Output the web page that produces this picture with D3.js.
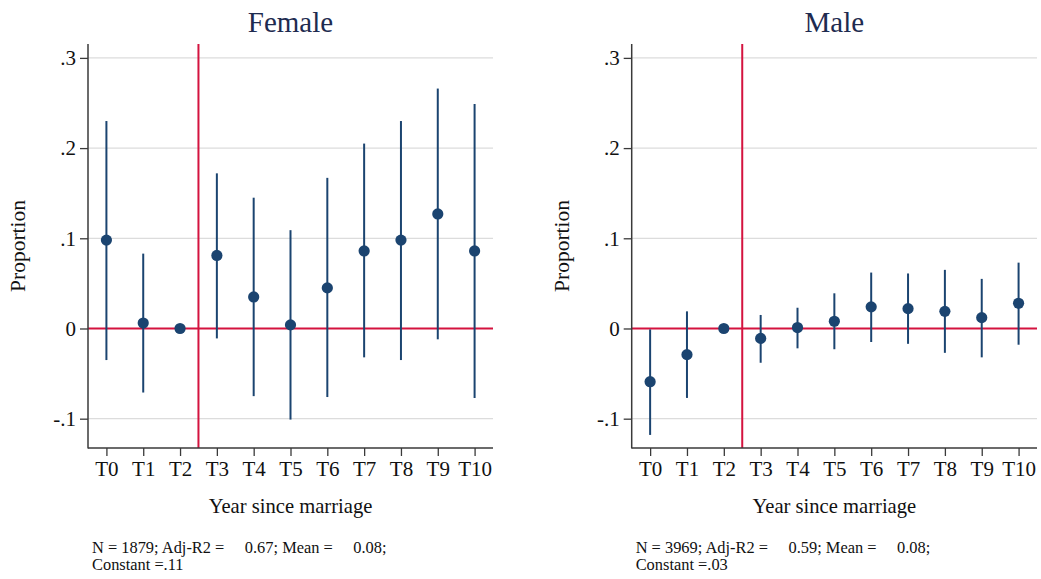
<!DOCTYPE html>
<html>
<head>
<meta charset="utf-8">
<script src="https://cdn.jsdelivr.net/npm/d3@7/dist/d3.min.js"></script>
<style>
  html, body { margin: 0; padding: 0; background: #fff; }
  svg { display: block; font-family: "Liberation Serif", "DejaVu Serif", serif; }
</style>
</head>
<body>
<div id="chart"></div>
<script>
// event-study coefficients by year since marriage (T2 = reference year)
const categories = ['T0', 'T1', 'T2', 'T3', 'T4', 'T5', 'T6', 'T7', 'T8', 'T9', 'T10'];

const femaleCoef = [0.098, 0.006, 0, 0.081, 0.035, 0.004, 0.045, 0.086, 0.098, 0.127, 0.086];
const femaleLo   = [-0.035, -0.071, 0, -0.011, -0.075, -0.101, -0.076, -0.032, -0.035, -0.012, -0.077];
const femaleHi   = [0.230, 0.083, 0, 0.172, 0.145, 0.109, 0.167, 0.205, 0.230, 0.266, 0.249];

const maleCoef = [-0.059, -0.029, 0, -0.011, 0.001, 0.008, 0.024, 0.022, 0.019, 0.012, 0.028];
const maleLo   = [-0.118, -0.077, 0, -0.038, -0.022, -0.023, -0.015, -0.017, -0.027, -0.032, -0.018];
const maleHi   = [-0.001, 0.019, 0, 0.015, 0.023, 0.039, 0.062, 0.061, 0.065, 0.055, 0.073];

const yTicks = [-0.1, 0, 0.1, 0.2, 0.3];
const yTickLabels = ['-.1', '0', '.1', '.2', '.3'];

const femaleNote = ['N = 1879; Adj-R2 =     0.67; Mean =     0.08;', 'Constant =.11'];
const maleNote   = ['N = 3969; Adj-R2 =     0.59; Mean =     0.08;', 'Constant =.03'];

const width = 1041, height = 579;
const navy = '#1b4470', red = '#d4133f', grid = '#dcdcdc', axisCol = '#3a3a3a';

const svg = d3.select('#chart').append('svg')
    .attr('width', width)
    .attr('height', height);

function drawPanel(opts) {
    const { left, right, top, bottom, title, coef, lo, hi, note } = opts;

    const x = d3.scalePoint()
        .domain(categories)
        .range([left, right])
        .padding(0.5);

    const y = d3.scaleLinear()
        .domain([-0.1325, 0.3154])
        .range([bottom, top]);

    const g = svg.append('g');

    // gridlines (zero line is drawn in red later)
    g.selectAll('.grid')
        .data(yTicks.filter(d => d !== 0))
        .join('line')
        .attr('x1', left).attr('x2', right)
        .attr('y1', d => y(d)).attr('y2', d => y(d))
        .attr('stroke', grid)
        .attr('stroke-width', 1.2);

    // reference lines
    const xRef = x('T2') + x.step() / 2;
    g.append('line')
        .attr('x1', xRef).attr('x2', xRef)
        .attr('y1', top).attr('y2', bottom)
        .attr('stroke', red).attr('stroke-width', 2);

    g.append('line')
        .attr('x1', left).attr('x2', right)
        .attr('y1', y(0)).attr('y2', y(0))
        .attr('stroke', red).attr('stroke-width', 2);

    // axes
    const yAxis = g.append('g')
        .attr('transform', `translate(${left},0)`)
        .call(d3.axisLeft(y)
            .tickValues(yTicks)
            .tickFormat((d, i) => yTickLabels[i])
            .tickSize(8)
            .tickPadding(4));

    const xAxis = g.append('g')
        .attr('transform', `translate(0,${bottom})`)
        .call(d3.axisBottom(x).tickSize(8).tickPadding(5));

    [yAxis, xAxis].forEach(ax => {
        ax.select('.domain').remove();
        ax.selectAll('line').attr('stroke', axisCol).attr('stroke-width', 1.3);
        ax.selectAll('text')
            .attr('fill', '#111')
            .attr('font-size', '21px')
            .attr('font-family', '"Liberation Serif", serif');
    });

    g.append('line')
        .attr('x1', left).attr('x2', left)
        .attr('y1', top).attr('y2', bottom + 0.6)
        .attr('stroke', axisCol).attr('stroke-width', 1.5);
    g.append('line')
        .attr('x1', left).attr('x2', right)
        .attr('y1', bottom).attr('y2', bottom)
        .attr('stroke', axisCol).attr('stroke-width', 1.5);

    // confidence intervals
    g.selectAll('.ci')
        .data(categories.map((c, i) => ({ c, lo: lo[i], hi: hi[i] })).filter(d => d.hi !== d.lo))
        .join('line')
        .attr('x1', d => x(d.c)).attr('x2', d => x(d.c))
        .attr('y1', d => y(d.lo)).attr('y2', d => y(d.hi))
        .attr('stroke', navy)
        .attr('stroke-width', 2);

    // point estimates
    g.selectAll('.pt')
        .data(categories.map((c, i) => ({ c, v: coef[i] })))
        .join('circle')
        .attr('cx', d => x(d.c))
        .attr('cy', d => y(d.v))
        .attr('r', 5.6)
        .attr('fill', navy);

    // titles and labels
    const cx = (left + right) / 2;
    g.append('text')
        .attr('x', cx).attr('y', 32)
        .attr('text-anchor', 'middle')
        .attr('font-size', '29px')
        .attr('fill', '#1e2b50')
        .text(title);

    g.append('text')
        .attr('x', cx).attr('y', 513)
        .attr('text-anchor', 'middle')
        .attr('font-size', '20.6px')
        .attr('fill', '#111')
        .text('Year since marriage');

    g.append('text')
        .attr('transform', `translate(${left - 63},${(top + bottom) / 2}) rotate(-90)`)
        .attr('text-anchor', 'middle')
        .attr('font-size', '21.5px')
        .attr('fill', '#111')
        .text('Proportion');

    g.selectAll('.note')
        .data(note)
        .join('text')
        .attr('x', left + 4)
        .attr('y', (d, i) => 553 + i * 17)
        .attr('font-size', '16.4px')
        .attr('fill', '#111')
        .style('white-space', 'pre')
        .text(d => d);
}

drawPanel({ left: 88, right: 493, top: 44, bottom: 448, title: 'Female',
    coef: femaleCoef, lo: femaleLo, hi: femaleHi, note: femaleNote });
drawPanel({ left: 631.7, right: 1037, top: 44, bottom: 448, title: 'Male',
    coef: maleCoef, lo: maleLo, hi: maleHi, note: maleNote });
</script>
</body>
</html>
